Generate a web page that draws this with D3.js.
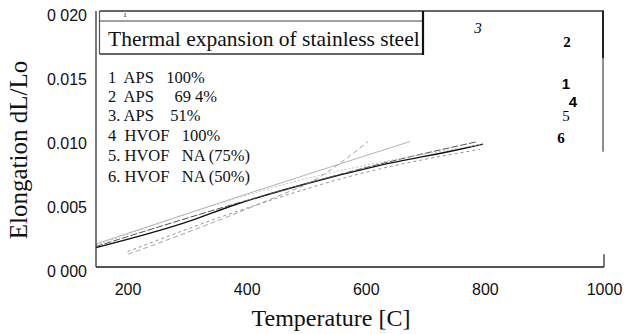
<!DOCTYPE html>
<html>
<head>
<meta charset="utf-8">
<script src="https://cdn.jsdelivr.net/npm/d3@7"></script>
<style>
  body { margin: 0; background: #fff; }
  svg { display: block; }
  .serif { font-family: "Liberation Serif", "Times New Roman", serif; }
  .sans { font-family: "Liberation Sans", Arial, sans-serif; }
</style>
</head>
<body>
<svg id="chart"></svg>
<script>
// temperature [C], elongation dL/Lo
const aps100 = [[147, 0.00151], [299, 0.0035], [383, 0.0049], [500, 0.0065], [620, 0.0079], [758, 0.0092], [797, 0.0096]]
const aps694 = [[147, 0.0018], [400, 0.0057], [674, 0.0098]]
const aps51 = [[201, 0.0010], [300, 0.0027], [456, 0.0056], [506, 0.0066], [604, 0.0098]]
const hvof100 = [[147, 0.0016], [400, 0.0052], [620, 0.0080], [788, 0.0098]]
const hvofNA75 = [[147, 0.0017], [500, 0.0069], [797, 0.0096]]
const hvofNA50 = [[200, 0.0012], [400, 0.0046], [600, 0.0074], [792, 0.0092]]

const xTicks = [200, 400, 600, 800, 1000]
const yTicks = [0, 0.005, 0.010, 0.015, 0.020]
const yTickLabels = ['0 000', '0.005', '0.010', '0.015', '0 020']

const legendLabels = ['1  APS   100%', '2  APS     69 4%', '3. APS    51%', '4  HVOF   100%', '5. HVOF   NA (75%)', '6. HVOF   NA (50%)']
const curveTags = ['3', '2', '1', '4', '5', '6']

const title = 'Thermal expansion of stainless steel'
const xTitle = 'Temperature [C]'
const yTitle = 'Elongation dL/Lo'

const width = 628
const height = 334
const margin = { top: 11, left: 96, bottom: 67, right: 24 }

const svg = d3.select('#chart').attr('width', width).attr('height', height)

const x = d3.scaleLinear().domain([147, 1000]).range([margin.left, width - margin.right])
const y = d3.scaleLinear().domain([0, 0.020]).range([height - margin.bottom, margin.top])

// line styles for the six runs
const series = [
    { data: aps100, color: '#111', w: 1.4, dash: null },
    { data: aps694, color: '#aaa', w: 0.9, dash: null },
    { data: aps51, color: '#999', w: 0.9, dash: '5,3' },
    { data: hvof100, color: '#555', w: 1, dash: '7,2' },
    { data: hvofNA75, color: '#bbb', w: 0.9, dash: '2,2' },
    { data: hvofNA50, color: '#888', w: 0.9, dash: '3,3' }
]

const line = d3.line().x(d => x(d[0])).y(d => y(d[1])).curve(d3.curveMonotoneX)

svg.append('g')
    .selectAll('path')
    .data(series)
    .join('path')
    .attr('d', d => line(d.data))
    .attr('fill', 'none')
    .attr('stroke', d => d.color)
    .attr('stroke-width', d => d.w)
    .attr('stroke-dasharray', d => d.dash)

// axes
const xAxis = svg.append('g')
    .attr('class', 'sans')
    .attr('transform', `translate(0,${y(0)})`)
    .call(d3.axisBottom(x).tickValues(xTicks).tickFormat(d3.format('d')).tickSize(0).tickPadding(17))
xAxis.select('.domain').remove()
xAxis.selectAll('text').attr('font-size', 16).attr('fill', '#111')

const yAxis = svg.append('g')
    .attr('class', 'sans')
    .attr('transform', `translate(${x(147)},0)`)
    .call(d3.axisLeft(y).tickValues(yTicks).tickFormat((d, i) => yTickLabels[i]).tickSize(0).tickPadding(9))
yAxis.select('.domain').remove()
yAxis.selectAll('text').attr('font-size', 16).attr('fill', '#111').attr('y', 4)

// frame
const x0 = x(147), x1 = x(1000), yb = y(0), yt = y(0.020)
svg.append('line').attr('x1', x0).attr('x2', x1).attr('y1', yb).attr('y2', yb)
    .attr('stroke', '#555').attr('stroke-width', 2)
svg.append('line').attr('x1', x0).attr('x2', x0).attr('y1', yt).attr('y2', yb)
    .attr('stroke', '#333').attr('stroke-width', 1.3)
svg.append('line').attr('x1', x0 + 3.5).attr('x2', x1).attr('y1', yt).attr('y2', yt)
    .attr('stroke', '#333').attr('stroke-width', 1.3)
svg.append('line').attr('x1', x1 - 1).attr('x2', x1 - 1).attr('y1', yt).attr('y2', y(0.0163))
    .attr('stroke', '#222').attr('stroke-width', 2)
svg.append('line').attr('x1', x1 - 1).attr('x2', x1 - 1).attr('y1', y(0.0163)).attr('y2', y(0.0090))
    .attr('stroke', '#444').attr('stroke-width', 1.2)
svg.append('line').attr('x1', x1).attr('x2', x1).attr('y1', y(0.001)).attr('y2', yb)
    .attr('stroke', '#333').attr('stroke-width', 1.3)

// title box
const bx0 = x0 + 3.5, bx1 = 423, by0 = yt, by1 = 54
svg.append('line').attr('x1', bx0).attr('x2', bx0).attr('y1', by0).attr('y2', by1).attr('stroke', '#555').attr('stroke-width', 1.2)
svg.append('line').attr('x1', bx0).attr('x2', bx1).attr('y1', 21).attr('y2', 21).attr('stroke', '#444').attr('stroke-width', 1.2)
svg.append('line').attr('x1', bx0).attr('x2', bx1).attr('y1', by1).attr('y2', by1).attr('stroke', '#333').attr('stroke-width', 1.3)
svg.append('line').attr('x1', bx1).attr('x2', bx1).attr('y1', by0).attr('y2', by1 + 1).attr('stroke', '#111').attr('stroke-width', 2.2)
svg.append('text').attr('class', 'serif').attr('x', 125).attr('y', 17)
    .attr('font-size', 7).attr('text-anchor', 'middle').text('1')

svg.append('text').attr('class', 'serif')
    .attr('x', 108).attr('y', 46)
    .attr('font-size', 21.5).attr('fill', '#111')
    .text(title)

// legend
const legendY = [83, 102, 121, 141, 161, 182]
svg.append('g').attr('class', 'serif')
    .selectAll('text')
    .data(legendLabels)
    .join('text')
    .attr('x', 108)
    .attr('y', (d, i) => legendY[i])
    .attr('font-size', 16.5)
    .attr('fill', '#111')
    .style('white-space', 'pre')
    .text(d => d)

// curve tags at the right
const tagPos = [
    { x: 478, y: 33, cls: 'serif', weight: 'normal', style: 'italic' },
    { x: 567, y: 47, cls: 'serif', weight: 'bold', style: 'normal' },
    { x: 566, y: 89, cls: 'sans', weight: 'bold', style: 'normal' },
    { x: 573, y: 107, cls: 'sans', weight: 'bold', style: 'normal' },
    { x: 566, y: 121, cls: 'serif', weight: 'normal', style: 'normal' },
    { x: 561, y: 143, cls: 'serif', weight: 'bold', style: 'normal' }
]
svg.append('g')
    .selectAll('text')
    .data(curveTags)
    .join('text')
    .attr('class', (d, i) => tagPos[i].cls)
    .attr('x', (d, i) => tagPos[i].x)
    .attr('y', (d, i) => tagPos[i].y)
    .attr('text-anchor', 'middle')
    .attr('font-size', 15)
    .attr('font-weight', (d, i) => tagPos[i].weight)
    .attr('font-style', (d, i) => tagPos[i].style)
    .text(d => d)

// axis titles
svg.append('text').attr('class', 'serif')
    .attr('x', 331).attr('y', 326)
    .attr('text-anchor', 'middle')
    .attr('font-size', 24).attr('fill', '#111')
    .text(xTitle)

svg.append('text').attr('class', 'serif')
    .attr('transform', 'translate(27,150) rotate(-90)')
    .attr('text-anchor', 'middle')
    .attr('font-size', 25).attr('fill', '#111')
    .text(yTitle)
</script>
</body>
</html>
